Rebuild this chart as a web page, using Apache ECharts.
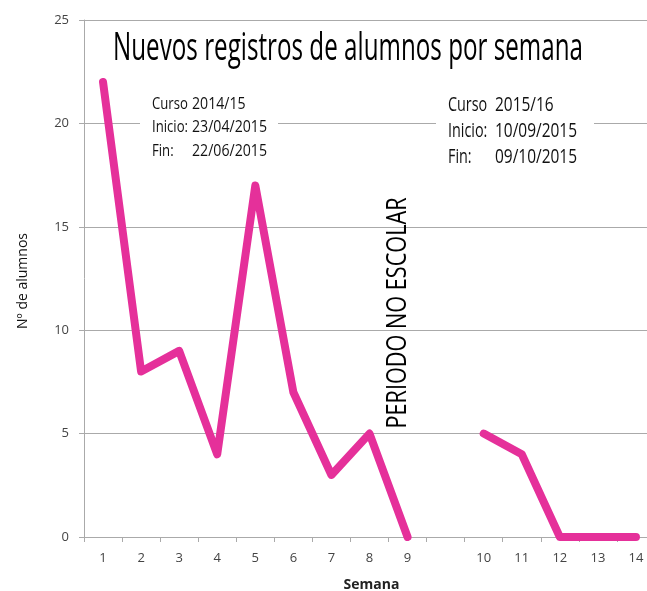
<!DOCTYPE html>
<html>
<head>
<meta charset="utf-8">
<script src="https://cdn.jsdelivr.net/npm/echarts@6/dist/echarts.min.js"></script>
<style>
html,body{margin:0;padding:0;background:#fff;}
#c{width:647px;height:591px;}
</style>
</head>
<body>
<div id="c"></div>
<script>
const categories = ['1','2','3','4','5','6','7','8','9','','10','11','12','13','14'];
const registros = [22, 8, 9, 4, 17, 7, 3, 5, 0, null, 5, 4, 0, 0, 0];
const yTicks = {min: 0, max: 25, interval: 5};
const titleText = 'Nuevos registros de alumnos por semana';
const curso1 = [['Curso', '2014/15'], ['Inicio:', '23/04/2015'], ['Fin:', '22/06/2015']];
const curso2 = [['Curso', '2015/16'], ['Inicio:', '10/09/2015'], ['Fin:', '09/10/2015']];
const periodoText = 'PERIODO NO ESCOLAR';
const yName = 'Nº de alumnos';
const xName = 'Semana';

const FONT = "'Open Sans', 'Liberation Sans', sans-serif";
const ctx = document.createElement('canvas').getContext('2d');
function widthOf(text, size) { ctx.font = size + 'px ' + FONT; return ctx.measureText(text).width; }
function scaleFor(text, size, target) { return target / widthOf(text, size); }

const chart = echarts.init(document.getElementById('c'), null, {renderer: 'canvas'});

function label(text, x, y, size, sx, opts) {
  opts = opts || {};
  return {
    type: 'text', x: x, y: y, scaleX: sx, scaleY: 1, rotation: opts.rotation || 0,
    style: {text: text, font: size + 'px ' + FONT, fill: opts.fill || '#111',
            textAlign: opts.align || 'left', textVerticalAlign: 'middle'},
    z: 20
  };
}

function block(rows, x1, x2, y0, dy, size, sx) {
  const out = [];
  rows.forEach((r, i) => {
    out.push(label(r[0], x1, y0 + i * dy, size, sx * 0.93));
    out.push(label(r[1], x2, y0 + i * dy, size, sx));
  });
  return out;
}

const s1 = scaleFor(curso1[1][1], 17, 75);
const s2 = scaleFor(curso2[1][1], 20, 82);
const sTitle = scaleFor(titleText, 38, 470);
const sPer = scaleFor(periodoText, 28, 231);

const perEl = label(periodoText, 398, 313, 28, 1, {rotation: Math.PI / 2, align: 'center', fill: '#000'});
perEl.scaleX = sPer;

const graphics = [
  {type: 'rect', shape: {x: 140, y: 92, width: 138, height: 72}, style: {fill: '#fff'}, z: 10},
  {type: 'rect', shape: {x: 436, y: 88, width: 158, height: 80}, style: {fill: '#fff'}, z: 10},
  label(titleText, 348, 49, 38, sTitle, {align: 'center', fill: '#000'}),
  perEl,
  label(yName, 23, 281, 14, 1, {rotation: Math.PI / 2, align: 'center', fill: '#111'})
].concat(block(curso1, 152, 192, 104, 23.5, 17, s1)).concat(block(curso2, 448, 495, 105, 26, 20, s2));

chart.setOption({
  animation: false,
  grid: {left: 84, top: 20, width: 571, height: 517, containLabel: false, outerBoundsMode: 'none'},
  xAxis: {
    type: 'category',
    data: categories,
    boundaryGap: true,
    name: xName,
    nameLocation: 'middle',
    nameGap: 41,
    nameTextStyle: {fontFamily: 'Open Sans', fontWeight: 'bold', fontSize: 14, color: '#222', padding: [0, 0, 0, 4]},
    axisLine: {lineStyle: {color: '#aaa', width: 1}},
    axisTick: {show: true, interval: 0, length: 5, lineStyle: {color: '#aaa'}},
    axisLabel: {interval: 0, margin: 15, fontFamily: 'Open Sans', fontSize: 13, color: '#444'},
    splitLine: {show: false}
  },
  yAxis: {
    type: 'value',
    min: yTicks.min, max: yTicks.max, interval: yTicks.interval,
    axisLine: {show: true, lineStyle: {color: '#aaa', width: 1}},
    axisTick: {show: true, length: 5, lineStyle: {color: '#aaa'}},
    axisLabel: {margin: 15, fontFamily: 'Open Sans', fontSize: 13, color: '#444'},
    splitLine: {show: true, lineStyle: {color: '#aaa', width: 1}}
  },
  series: [{
    type: 'line',
    data: registros,
    connectNulls: false,
    showSymbol: false,
    symbol: 'none',
    lineStyle: {color: '#E5309A', width: 8, cap: 'round', join: 'round'},
    z: 5
  }],
  graphic: graphics
});
</script>
</body>
</html>
